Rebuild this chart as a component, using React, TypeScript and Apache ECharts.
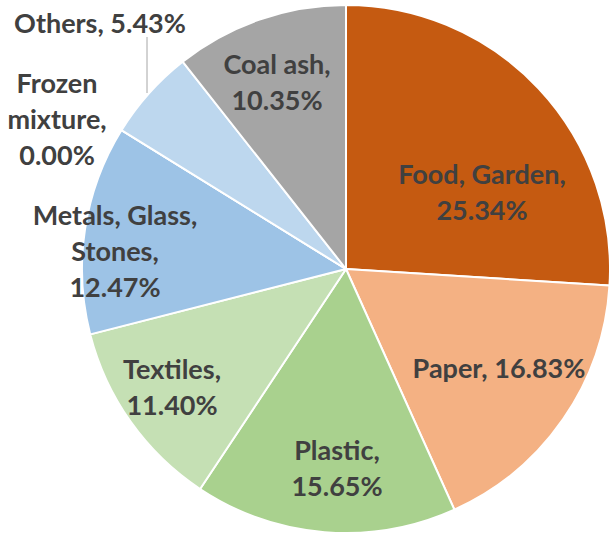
import React, { useEffect, useRef } from "react";
import * as echarts from "echarts";

const categories = [
  "Food, Garden",
  "Paper",
  "Plastic",
  "Textiles",
  "Metals, Glass, Stones",
  "Frozen mixture",
  "Others",
  "Coal ash",
];
const values = [25.34, 16.83, 15.65, 11.4, 12.47, 0.0, 5.43, 10.35];
const colors = ["#C55A11", "#F4B183", "#A9D18E", "#C5E0B4", "#9DC3E6", "#2E75B6", "#BDD7EE", "#A5A5A5"];
const labelPrefix = [
  "Food, Garden,\n",
  "Paper, ",
  "Plastic,\n",
  "Textiles,\n",
  "Metals, Glass,\nStones,\n",
  "Frozen\nmixture,\n",
  "Others, ",
  "Coal ash,\n",
];
// label block centres (layout only)
const labelPos = [
  [482, 191],
  [499, 367],
  [337, 467],
  [172, 386],
  [115, 250],
  [57, 118],
  [100, 22],
  [277, 81],
];

export default function App() {
  const ref = useRef<HTMLDivElement>(null);
  useEffect(() => {
    if (!ref.current) return;
    const chart = echarts.init(ref.current, null, { renderer: "svg" });
    chart.setOption({
      animation: false,
      backgroundColor: "#ffffff",
      series: [
        {
          type: "pie",
          center: [346, 269],
          radius: 264,
          startAngle: 90,
          clockwise: true,
          avoidLabelOverlap: false,
          itemStyle: { borderColor: "#ffffff", borderWidth: 2 },
          label: {
            show: true,
            position: "inside",
            fontFamily: "Lato, 'Open Sans', sans-serif",
            fontWeight: "bold",
            fontSize: 27,
            lineHeight: 36,
            color: "#404040",
            align: "center",
            formatter: (p: any) => labelPrefix[p.dataIndex] + Number(p.value).toFixed(2) + "%",
          },
          labelLine: { show: false },
          labelLayout: (p: any) => {
            const pos = labelPos[p.dataIndex];
            const res: any = { x: pos[0], y: pos[1], align: "center", verticalAlign: "middle" };
            if (p.dataIndex === 6) {
              res.labelLinePoints = [
                [147, 93],
                [147, 60],
                [147, 37],
              ];
            }
            return res;
          },
          data: categories.map((name, i) => {
            const item: any = { name, value: values[i], itemStyle: { color: colors[i] } };
            if (i === 6) {
              item.label = { position: "outside" };
              item.labelLine = { show: true, length: 10, length2: 10, lineStyle: { color: "#A6A6A6", width: 1 } };
            }
            return item;
          }),
        },
      ],
    });
    return () => chart.dispose();
  }, []);
  return (
    <div
      ref={ref}
      style={{ position: "fixed", left: 0, top: 0, width: 609, height: 538, background: "#fff" }}
    />
  );
}
